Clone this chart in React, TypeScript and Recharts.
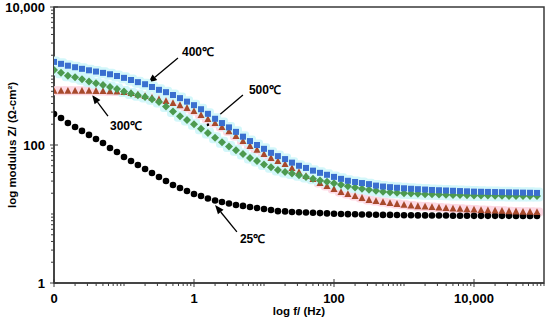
import { ScatterChart, Scatter, XAxis, YAxis, ReferenceArea, ReferenceLine } from "recharts";

// frequency (Hz), 10 points per decade
const freqHz = [
  0.01, 0.0126, 0.0158, 0.02, 0.0251, 0.0316, 0.0398, 0.0501, 0.0631, 0.0794,
  0.1, 0.126, 0.158, 0.2, 0.251, 0.316, 0.398, 0.501, 0.631, 0.794,
  1, 1.26, 1.58, 2, 2.51, 3.16, 3.98, 5.01, 6.31, 7.94,
  10, 12.6, 15.8, 20, 25.1, 31.6, 39.8, 50.1, 63.1, 79.4,
  100, 126, 158, 200, 251, 316, 398, 501, 631, 794,
  1000, 1260, 1580, 2000, 2510, 3160, 3980, 5010, 6310, 7940,
  10000, 12600, 15800, 20000, 25100, 31600, 39800, 50100, 63100, 79400,
];

// |Z| (ohm-cm2)
const z25 = [
  281, 246, 208, 182, 160, 140, 122, 107, 90.5, 79,
  67, 58.6, 51.3, 44.9, 39.3, 34.4, 30.1, 26.3, 23.8, 21.5,
  19.5, 18.2, 16.8, 15.7, 14.9, 14.2, 13.5, 13.1, 12.6, 12.2,
  11.8, 11.4, 11.0, 10.9, 10.7, 10.6, 10.5, 10.4, 10.3, 10.2,
  10.1, 10.0, 9.95, 9.9, 9.85, 9.8, 9.75, 9.7, 9.7, 9.65,
  9.6, 9.6, 9.55, 9.55, 9.5, 9.5, 9.5, 9.45, 9.45, 9.45,
  9.4, 9.4, 9.4, 9.4, 9.4, 9.4, 9.35, 9.35, 9.35, 9.35,
];
const z300 = [
  610, 610, 610, 610, 610, 610, 608, 605, 600, 595,
  586, 565, 540, 512, 485, 460, 434, 406, 378, 345,
  311, 272, 238, 208, 182, 158, 135, 114, 97, 85,
  74, 65, 58.6, 53, 46.4, 40.6, 35.5, 32.2, 28.1, 25.5,
  23, 20.8, 19.5, 18.2, 17.1, 16, 15.4, 14.9, 14.4, 14.0,
  13.6, 13.3, 13.0, 12.8, 12.6, 12.4, 12.2, 12.0, 11.9, 11.7,
  11.6, 11.4, 11.3, 11.2, 11.1, 11.0, 10.9, 10.8, 10.8, 10.7,
];
const z400 = [
  1600, 1500, 1410, 1340, 1270, 1210, 1160, 1110, 1060, 1000,
  940, 875, 815, 760, 693, 630, 583, 530, 478, 425,
  378, 330, 283, 240, 208, 180, 155, 132, 114, 100,
  88, 77, 69, 62.5, 55.5, 50, 46.5, 42.5, 39.5, 37,
  34.5, 32.3, 30.3, 29.1, 28.1, 27.1, 25.8, 25, 24.5, 24,
  23.6, 23.2, 22.9, 22.6, 22.3, 22.1, 21.9, 21.7, 21.5, 21.3,
  21.1, 21, 20.9, 20.8, 20.7, 20.6, 20.5, 20.4, 20.3, 20.2,
];
const z500 = [
  1220, 1110, 1010, 960, 900, 830, 785, 740, 693, 648,
  595, 560, 528, 495, 462, 420, 360, 305, 262, 230,
  200, 172, 149, 127, 110, 95, 84, 74, 65, 58.5,
  52, 47.5, 43.4, 40.6, 38.5, 36.5, 34.4, 32.5, 30.6, 29.3,
  27.8, 26.5, 25.2, 24.2, 23.2, 22.4, 21.7, 21.0, 20.6, 20.3,
  20.0, 19.8, 19.6, 19.4, 19.3, 19.2, 19.0, 18.9, 18.8, 18.7,
  18.6, 18.5, 18.5, 18.4, 18.4, 18.3, 18.3, 18.2, 18.2, 18.2,
];

const xMajor = [0.01, 1, 100, 10000];
const yMajor = [1, 100, 10000];
const xDomain = [0.01, 100000];
const yDomain = [1, 10000];

// arrows: [label, tail f, tail Z, head f, head Z, text dx, text dy]
const notes: [string, number, number, number, number, number, number][] = [
  ["400\u2103", 0.59, 1820, 0.22, 790, 4, -6],
  ["500\u2103", 5.0, 530, 1.44, 182, 6, -5],
  ["300\u2103", 0.059, 263, 0.035, 531, 2, 10],
  ["25\u2103", 4.1, 5.5, 2.0, 13.5, 3, 7],
];

const FONT = "'Liberation Sans', Arial, sans-serif";
const AXIS = "#3a3a3a";

const toPoints = (zs: number[]) => freqHz.map((f, i) => ({ f, z: zs[i] }));

// every k*10^n between the domain ends, for the minor ticks
const logTicks = (lo: number, hi: number) => {
  const out: number[] = [];
  for (let e = Math.round(Math.log10(lo)); e < Math.round(Math.log10(hi)); e++) {
    for (let k = 1; k < 10; k++) out.push(Number((k * Math.pow(10, e)).toPrecision(3)));
  }
  out.push(hi);
  return out;
};
const isMajor = (v: number, majors: number[]) => majors.some((m) => Math.abs(Math.log10(v) - Math.log10(m)) < 1e-6);
const fmt = (v: number) => Math.round(v).toLocaleString("en-US");

const XTick = (p: any) => {
  const { x, y, payload } = p;
  const major = isMajor(payload.value, xMajor);
  return (
    <g>
      <line x1={x} x2={x} y1={major ? y - 4 : y} y2={y + (major ? 4 : 3)} stroke={AXIS} strokeWidth={1} />
      {major && (
        <text x={x} y={y + 20} textAnchor="middle" fontFamily={FONT} fontWeight="bold" fontSize={13} fill="#000">
          {fmt(payload.value)}
        </text>
      )}
    </g>
  );
};

const YTick = (p: any) => {
  const { x, y, payload } = p;
  const major = isMajor(payload.value, yMajor);
  return (
    <g>
      <line x1={major ? x + 4 : x} x2={x - (major ? 4 : 3)} y1={y} y2={y} stroke={AXIS} strokeWidth={1} />
      {major && (
        <text x={x - 9} y={y} dy="0.35em" textAnchor="end" fontFamily={FONT} fontWeight="bold" fontSize={13} fill="#000">
          {fmt(payload.value)}
        </text>
      )}
    </g>
  );
};

const square = (color: string) => (p: any) => <rect x={p.cx - 3} y={p.cy - 3} width={6} height={6} fill={color} />;
const diamond = (color: string) => (p: any) => (
  <polygon points={`${p.cx},${p.cy - 4} ${p.cx + 4},${p.cy} ${p.cx},${p.cy + 4} ${p.cx - 4},${p.cy}`} fill={color} />
);
const triangle = (color: string) => (p: any) => (
  <polygon points={`${p.cx},${p.cy - 3.8} ${p.cx + 3.5},${p.cy + 3} ${p.cx - 3.5},${p.cy + 3}`} fill={color} />
);
const dot = (color: string) => (p: any) => <circle cx={p.cx} cy={p.cy} r={3.3} fill={color} />;
const glow = (color: string, h: number) => (p: any) => (
  <rect x={p.cx - 6} y={p.cy - h} width={12} height={h * 2} rx={3} fill={color} />
);

const arrow = (text: string, dx: number, dy: number) => (p: any) => {
  const { x1, y1, x2, y2 } = p;
  if (x1 == null) return <g />;
  const a = Math.atan2(y2 - y1, x2 - x1);
  const len = 9;
  const half = 3.6;
  const bx = x2 - len * Math.cos(a);
  const by = y2 - len * Math.sin(a);
  const pts = `${x2},${y2} ${bx - half * Math.sin(a)},${by + half * Math.cos(a)} ${bx + half * Math.sin(a)},${by - half * Math.cos(a)}`;
  return (
    <g>
      <line x1={x1} y1={y1} x2={bx} y2={by} stroke="#000" strokeWidth={1.3} />
      <polygon points={pts} fill="#000" />
      <text x={x1 + dx} y={y1 + dy} dy="0.35em" fontFamily={FONT} fontWeight="bold" fontSize={12} fill="#000">
        {text}
      </text>
    </g>
  );
};

const xTitle = (p: any) => {
  const vb = p.viewBox ?? { x: 54, y: 283, width: 490, height: 45 };
  return (
    <text x={vb.x + vb.width / 2} y={vb.y + 32} textAnchor="middle" fontFamily={FONT} fontWeight="bold" fontSize={11.5} fill="#000">
      log f/ (Hz)
    </text>
  );
};

const yTitle = (p: any) => {
  const vb = p.viewBox ?? { x: 0, y: 7, width: 54, height: 276 };
  const cx = vb.x + 12;
  const cy = vb.y + vb.height / 2;
  return (
    <text x={cx} y={cy} dy="0.35em" textAnchor="middle" transform={`rotate(-90 ${cx} ${cy})`} fontFamily={FONT} fontWeight="bold" fontSize={11.5} fill="#000">
      log modulus Z/ (Ω-cm²)
    </text>
  );
};

export default function App() {
  const d25 = toPoints(z25);
  const d300 = toPoints(z300);
  const d400 = toPoints(z400);
  const d500 = toPoints(z500);
  return (
    <div style={{ position: "absolute", left: 0, top: 0, width: 550, height: 328, background: "#fff" }}>
      <ScatterChart width={550} height={328} margin={{ top: 7, right: 6, bottom: 0, left: 0 }}>
        <XAxis
          dataKey="f"
          type="number"
          scale="log"
          domain={xDomain}
          allowDataOverflow
          ticks={logTicks(xDomain[0], xDomain[1])}
          interval={0}
          tickSize={0}
          tickMargin={0}
          tickLine={false}
          tick={<XTick />}
          height={45}
          axisLine={{ stroke: AXIS, strokeWidth: 1.5 }}
          label={{ content: xTitle }}
        />
        <YAxis
          dataKey="z"
          type="number"
          scale="log"
          domain={yDomain}
          allowDataOverflow
          ticks={logTicks(yDomain[0], yDomain[1])}
          interval={0}
          tickSize={0}
          tickMargin={0}
          tickLine={false}
          tick={<YTick />}
          width={54}
          axisLine={{ stroke: AXIS, strokeWidth: 1.5 }}
          label={{ content: yTitle }}
        />
        <ReferenceArea x1={xDomain[0]} x2={xDomain[1]} y1={yDomain[0]} y2={yDomain[1]} fill="none" stroke={AXIS} strokeWidth={1.5} fillOpacity={0} ifOverflow="visible" />

        <Scatter data={d300} shape={glow("#fdd9e4", 4.5)} isAnimationActive={false} />
        <Scatter data={d500} shape={glow("#d3f7fa", 5.5)} isAnimationActive={false} />
        <Scatter data={d400} shape={glow("#d3f7fa", 5.5)} isAnimationActive={false} />

        <Scatter name="25℃" data={d25} shape={dot("#000000")} isAnimationActive={false} />
        <Scatter name="300℃" data={d300} shape={triangle("#a84a2c")} isAnimationActive={false} />
        <Scatter name="500℃" data={d500} shape={diamond("#4c9a4f")} isAnimationActive={false} />
        <Scatter name="400℃" data={d400} shape={square("#3a6fcf")} isAnimationActive={false} />

        {notes.map(([t, tf, tz, hf, hz, dx, dy]) => (
          <ReferenceLine
            key={t}
            segment={[{ x: tf, y: tz }, { x: hf, y: hz }]}
            ifOverflow="visible"
            shape={arrow(t, dx, dy)}
          />
        ))}
      </ScatterChart>
    </div>
  );
}
